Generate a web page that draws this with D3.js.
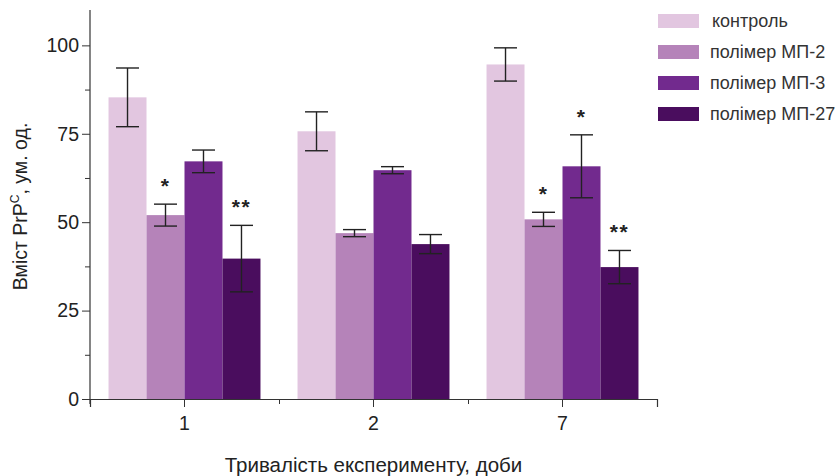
<!DOCTYPE html>
<html>
<head>
<meta charset="utf-8">
<script src="https://cdn.jsdelivr.net/npm/d3@7"></script>
<style>
  body { margin: 0; background: #fff; }
  svg text { font-family: "Liberation Sans", Arial, sans-serif; fill: #222; }
</style>
</head>
<body>
<svg id="chart" width="839" height="476"></svg>
<script>
// data
var days = ['1', '2', '7']
var seriesNames = ['контроль', 'полімер МП-2', 'полімер МП-3', 'полімер МП-27']
var seriesColors = ['#e2c6e0', '#b583b9', '#722a8e', '#4a0d5e']
var means = [
  [85.3, 52.0, 67.2, 39.7],
  [75.7, 46.9, 64.7, 43.8],
  [94.6, 50.8, 65.8, 37.3]
]
var errors = [
  [8.3, 3.1, 3.2, 9.4],
  [5.5, 1.0, 1.0, 2.7],
  [4.7, 2.0, 8.9, 4.7]
]
var stars = [
  ['', '*', '', '**'],
  ['', '', '', ''],
  ['', '*', '*', '**']
]
var yTicks = [0, 25, 50, 75, 100]
var yMinor = [12.5, 37.5, 62.5, 87.5]

var svg = d3.select('#chart')
var margin = {top: 10, left: 90, right: 182, bottom: 77}
var width = 839 - margin.left - margin.right,
    height = 476 - margin.top - margin.bottom

var g = svg.append('g').attr('transform', 'translate(' + margin.left + ',' + margin.top + ')')

var y = d3.scaleLinear().domain([0, 110]).range([height, 0])
var x0 = d3.scaleBand().domain(days).range([0, width]).paddingInner(0.196).paddingOuter(0.098)
var x1 = d3.scaleBand().domain(seriesNames).range([0, x0.bandwidth()])

// bars
var groups = g.selectAll('.grp')
  .data(days)
  .enter().append('g')
  .attr('class', 'grp')
  .attr('transform', function(d) { return 'translate(' + x0(d) + ',0)' })

groups.each(function(day, i) {
  var rows = seriesNames.map(function(s, j) {
    return {name: s, val: means[i][j], err: errors[i][j], star: stars[i][j], color: seriesColors[j]}
  })
  var grp = d3.select(this)

  grp.selectAll('rect')
    .data(rows)
    .enter().append('rect')
    .attr('x', function(d) { return x1(d.name) })
    .attr('width', x1.bandwidth())
    .attr('y', function(d) { return y(d.val) })
    .attr('height', function(d) { return y(0) - y(d.val) })
    .attr('fill', function(d) { return d.color })

  var eb = grp.selectAll('.eb')
    .data(rows)
    .enter().append('g')
    .attr('class', 'eb')
    .attr('stroke', '#222')
    .attr('stroke-width', 1.4)
  var cx = function(d) { return x1(d.name) + x1.bandwidth() / 2 }
  eb.append('line')
    .attr('x1', cx).attr('x2', cx)
    .attr('y1', function(d) { return y(d.val + d.err) })
    .attr('y2', function(d) { return y(d.val - d.err) })
  eb.append('line')
    .attr('x1', function(d) { return cx(d) - 11.5 }).attr('x2', function(d) { return cx(d) + 11.5 })
    .attr('y1', function(d) { return y(d.val + d.err) })
    .attr('y2', function(d) { return y(d.val + d.err) })
  eb.append('line')
    .attr('x1', function(d) { return cx(d) - 11.5 }).attr('x2', function(d) { return cx(d) + 11.5 })
    .attr('y1', function(d) { return y(d.val - d.err) })
    .attr('y2', function(d) { return y(d.val - d.err) })

  grp.selectAll('.star')
    .data(rows.filter(function(d) { return d.star }))
    .enter().append('text')
    .attr('class', 'star')
    .attr('x', cx)
    .attr('y', function(d) { return y(d.val + d.err) - 11 })
    .attr('text-anchor', 'middle')
    .style('font-size', '21px')
    .style('font-weight', 'bold')
    .style('letter-spacing', '1.5px')
    .text(function(d) { return d.star })
})

// y axis
var yAxis = g.append('g')
  .call(d3.axisLeft(y).tickValues(yTicks).tickSize(8).tickPadding(3))
yAxis.select('.domain').remove()
yAxis.selectAll('text').style('font-size', '19.5px')
yAxis.selectAll('line').attr('stroke', '#333')
g.append('g')
  .call(d3.axisLeft(y).tickValues(yMinor).tickSize(5).tickFormat(''))
  .call(function(s) { s.select('.domain').remove() })
  .selectAll('line').attr('stroke', '#333')
g.append('line')
  .attr('x1', 0).attr('x2', 0)
  .attr('y1', 0).attr('y2', height + 5)
  .attr('stroke', '#333').attr('stroke-width', 1.2)

// x axis
var xAxis = g.append('g')
  .attr('transform', 'translate(0,' + height + ')')
  .call(d3.axisBottom(x0).tickSize(8).tickPadding(9))
xAxis.select('.domain').attr('stroke', '#333').attr('stroke-width', 1.2)
xAxis.selectAll('text').style('font-size', '19.5px')
xAxis.selectAll('line').attr('stroke', '#333')
var bounds = days.map(function(d) { return x0(d) + x0.bandwidth() / 2 + x0.step() / 2 })
g.append('g')
  .attr('transform', 'translate(0,' + height + ')')
  .call(d3.axisBottom(d3.scaleLinear().domain([0, width]).range([0, width])).tickValues(bounds).tickSize(5).tickFormat(''))
  .call(function(s) { s.select('.domain').remove() })
  .selectAll('line').attr('stroke', '#333')

// axis titles
svg.append('text')
  .attr('x', margin.left + x0('2') + x0.bandwidth() / 2)
  .attr('y', 472)
  .attr('text-anchor', 'middle')
  .style('font-size', '20.5px')
  .text('Тривалість експерименту, доби')

var yt = svg.append('text')
  .attr('transform', 'translate(27,' + (margin.top + height / 2 + 2) + ') rotate(-90)')
  .attr('text-anchor', 'middle')
  .style('font-size', '19.5px')
yt.append('tspan').text('Вміст PrP')
yt.append('tspan').attr('dy', -8).style('font-size', '12px').text('C')
yt.append('tspan').attr('dy', 8).text(', ум. од.')

// legend
var legend = svg.append('g').attr('transform', 'translate(658,14)')
var li = legend.selectAll('.li')
  .data(seriesNames)
  .enter().append('g')
  .attr('class', 'li')
  .attr('transform', function(d, i) { return 'translate(0,' + (i * 31) + ')' })
li.append('rect')
  .attr('width', 41).attr('height', 14)
  .attr('fill', function(d, i) { return seriesColors[i] })
li.append('text')
  .attr('x', function(d, i) { return i === 0 ? 54 : 52 })
  .attr('y', 13)
  .style('font-size', '18px')
  .style('fill', '#333')
  .text(function(d) { return d })
</script>
</body>
</html>
